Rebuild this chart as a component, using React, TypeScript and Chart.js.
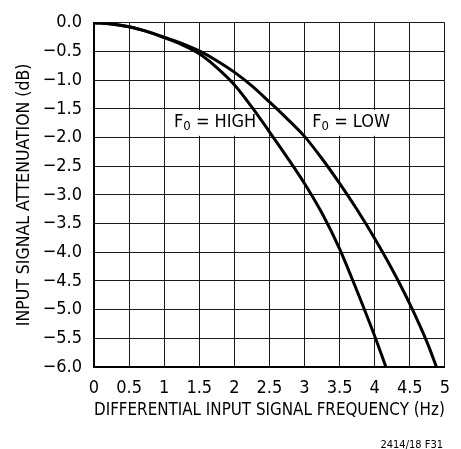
import React, { useEffect, useRef } from "react";
import { Chart, registerables } from "chart.js";

Chart.register(...registerables);

// ---- data ----
const highFreq = [0, 0.25, 0.5, 0.75, 1.0, 1.25, 1.5, 1.75, 2.0, 2.25, 2.5, 2.75, 3.0, 3.25, 3.5, 3.75, 4.0, 4.16];
const highAtten = [0, -0.02, -0.07, -0.15, -0.26, -0.38, -0.54, -0.78, -1.08, -1.47, -1.9, -2.34, -2.8, -3.32, -3.94, -4.68, -5.46, -6.0];

const lowFreq = [0, 0.25, 0.5, 0.75, 1.0, 1.25, 1.5, 1.75, 2.0, 2.25, 2.5, 2.75, 3.0, 3.25, 3.5, 3.75, 4.0, 4.25, 4.5, 4.75, 4.88];
const lowAtten = [0, -0.02, -0.07, -0.15, -0.25, -0.36, -0.49, -0.66, -0.86, -1.1, -1.38, -1.67, -1.98, -2.37, -2.8, -3.26, -3.76, -4.3, -4.9, -5.58, -6.0];

const xTickLabels = ["0", "0.5", "1", "1.5", "2", "2.5", "3", "3.5", "4", "4.5", "5"];
const yTickLabels = [
  "\u22126.0", "\u22125.5", "\u22125.0", "\u22124.5", "\u22124.0", "\u22123.5", "\u22123.0",
  "\u22122.5", "\u22122.0", "\u22121.5", "\u22121.0", "\u22120.5", "0.0",
];

const xTitle = "DIFFERENTIAL INPUT SIGNAL FREQUENCY (Hz)";
const yTitle = "INPUT SIGNAL ATTENUATION (dB)";
const footnote = "2414/18 F31";

// curve labels: main text, subscript, rest; text left x, center y, box x range, box y range (data units)
const curveLabels = [
  { main: "F", sub: "0", rest: " = HIGH", x: 1.14, y: -1.74, bx0: 1.01, bx1: 2.49, by0: -1.52, by1: -1.97 },
  { main: "F", sub: "0", rest: " = LOW", x: 3.11, y: -1.74, bx0: 3.01, bx1: 4.28, by0: -1.52, by1: -1.97 },
];

const FONT = '"Liberation Sans Narrow", "DejaVu Sans Condensed", "Arial Narrow", sans-serif';

const toPts = (xs: number[], ys: number[]) => xs.map((x, i) => ({ x, y: ys[i] }));

const labelPlugin = {
  id: "curveLabels",
  beforeDatasetsDraw(chart: any) {
    const { ctx, scales } = chart;
    const xs = scales.x;
    const ys = scales.y;
    ctx.save();
    for (const l of curveLabels) {
      const x0 = xs.getPixelForValue(l.bx0);
      const x1 = xs.getPixelForValue(l.bx1);
      const y0 = ys.getPixelForValue(l.by0);
      const y1 = ys.getPixelForValue(l.by1);
      ctx.fillStyle = "#fff";
      ctx.fillRect(x0, y0, x1 - x0, y1 - y0);
      const tx = xs.getPixelForValue(l.x);
      const ty = ys.getPixelForValue(l.y);
      ctx.fillStyle = "#000";
      ctx.textBaseline = "middle";
      ctx.textAlign = "left";
      ctx.font = `18px ${FONT}`;
      ctx.fillText(l.main, tx, ty);
      let w = ctx.measureText(l.main).width;
      ctx.font = `13px ${FONT}`;
      ctx.fillText(l.sub, tx + w, ty + 4);
      w += ctx.measureText(l.sub).width;
      ctx.font = `18px ${FONT}`;
      ctx.fillText(l.rest, tx + w, ty);
    }
    ctx.restore();
  },
  afterDraw(chart: any) {
    const { ctx } = chart;
    ctx.save();
    ctx.font = `11px ${FONT}`;
    ctx.fillStyle = "#000";
    ctx.textAlign = "right";
    ctx.textBaseline = "alphabetic";
    ctx.fillText(footnote, 443, 448);
    ctx.restore();
  },
};

export default function App() {
  const ref = useRef<HTMLCanvasElement | null>(null);
  useEffect(() => {
    if (!ref.current) return;
    const chart = new Chart(ref.current, {
      type: "scatter",
      data: {
        datasets: [
          {
            label: "F0 = HIGH",
            data: toPts(highFreq, highAtten),
            showLine: true,
            borderColor: "#000",
            borderWidth: 3,
            pointRadius: 0,
            cubicInterpolationMode: "monotone",
          },
          {
            label: "F0 = LOW",
            data: toPts(lowFreq, lowAtten),
            showLine: true,
            borderColor: "#000",
            borderWidth: 3,
            pointRadius: 0,
            cubicInterpolationMode: "monotone",
          },
        ],
      },
      options: {
        animation: false,
        responsive: false,
        maintainAspectRatio: false,
        layout: { padding: { top: 15, right: 15, left: 0, bottom: 0 } },
        plugins: { legend: { display: false }, tooltip: { enabled: false } },
        scales: {
          x: {
            type: "linear",
            min: 0,
            max: 5,
            afterFit: (s: any) => {
              s.height = 82;
            },
            ticks: {
              stepSize: 0.5,
              padding: 11,
              color: "#000",
              font: { family: FONT, size: 18 },
              maxRotation: 0,
              autoSkip: false,
              callback: (_v: any, i: number) => xTickLabels[i],
            },
            grid: { color: "#1a1a1a", lineWidth: 1, drawTicks: false },
            border: { color: "#000", width: 2 },
            title: {
              display: true,
              text: xTitle,
              color: "#000",
              font: { family: FONT, size: 18 },
              padding: { top: 0, bottom: 28 },
            },
          },
          y: {
            type: "linear",
            min: -6,
            max: 0,
            afterFit: (s: any) => {
              s.width = 94;
            },
            ticks: {
              stepSize: 0.5,
              padding: 12,
              color: "#000",
              font: { family: FONT, size: 18 },
              autoSkip: false,
              callback: (_v: any, i: number) => yTickLabels[i],
            },
            grid: { color: "#1a1a1a", lineWidth: 1, drawTicks: false },
            border: { color: "#000", width: 2 },
            title: {
              display: true,
              text: yTitle,
              color: "#000",
              font: { family: FONT, size: 17.5 },
              padding: { top: 14, bottom: 0 },
            },
          },
        },
      },
      plugins: [labelPlugin],
    } as any);
    return () => chart.destroy();
  }, []);
  return (
    <div style={{ position: "absolute", left: 0, top: 0, width: 461, height: 449, background: "#fff" }}>
      <canvas ref={ref} width={461} height={449} style={{ display: "block" }} />
    </div>
  );
}
